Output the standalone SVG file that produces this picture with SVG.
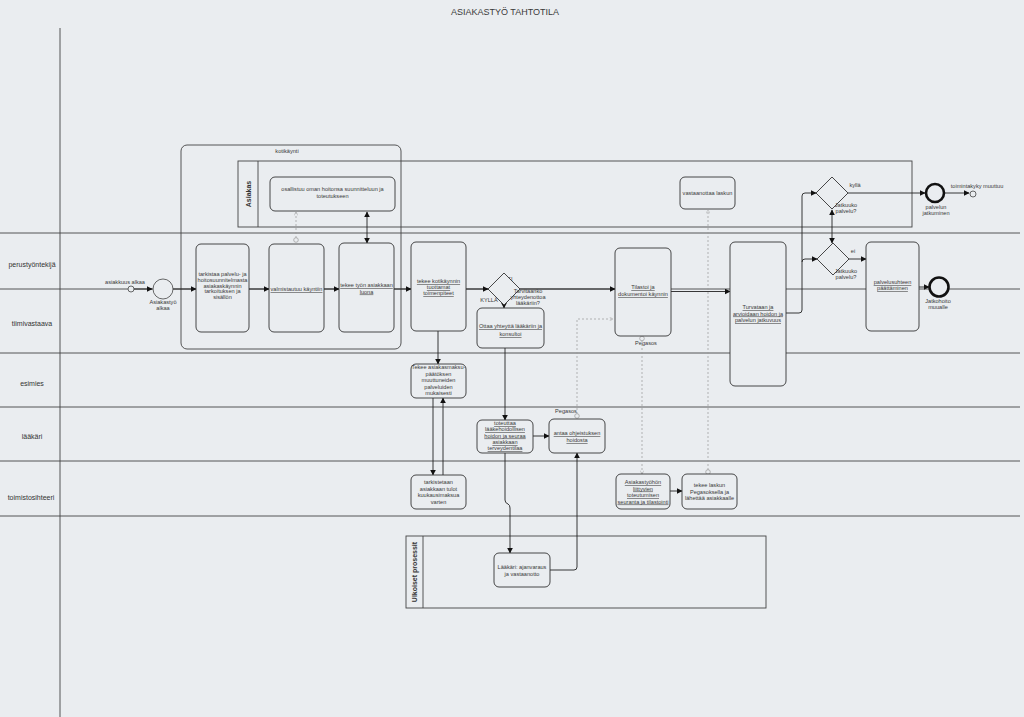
<svg xmlns="http://www.w3.org/2000/svg" width="1024" height="717" viewBox="0 0 1024 717">
<style>
  text { font-family: "Liberation Sans", Arial, sans-serif; fill: #3a3a3a; }
  .t { font-size: 5.6px; text-anchor: middle; }
  .u { text-decoration: underline; }
  .lane { font-size: 7px; text-anchor: middle; fill: #333; }
  .task { fill: #eaedf0; stroke: #333; stroke-width: 0.9; }
  .line { stroke: #444; stroke-width: 0.9; fill: none; }
  .flow { stroke: #222; stroke-width: 0.9; fill: none; marker-end: url(#arr); }
  .both { stroke: #222; stroke-width: 0.9; fill: none; marker-end: url(#arr); marker-start: url(#arr); }
  .msg { stroke: #9a9a9a; stroke-width: 0.7; stroke-dasharray: 2 2; fill: none; }
  .msgc { fill: #eaedf0; stroke: #9a9a9a; stroke-width: 0.7; }
  .pool { fill: none; stroke: #444; stroke-width: 0.9; }
  .plabel { font-size: 7px; font-weight: bold; text-anchor: middle; fill: #333; }
  .gw { fill: #eaedf0; stroke: #333; stroke-width: 0.9; }
</style>
<defs>
  <marker id="arr" viewBox="0 0 10 10" refX="9" refY="5" markerWidth="6" markerHeight="6" orient="auto-start-reverse" markerUnits="userSpaceOnUse">
    <path d="M0,0 L10,5 L0,10 z" fill="#111"/>
  </marker>
  <marker id="arrs" viewBox="0 0 10 10" refX="9" refY="5" markerWidth="4" markerHeight="4" orient="auto" markerUnits="userSpaceOnUse">
    <path d="M0,0 L10,5 L0,10" fill="none" stroke="#9a9a9a"/>
  </marker>
</defs>
<rect x="0" y="0" width="1024" height="717" fill="#eaedf0"/>
<text x="505" y="15" font-size="9" text-anchor="middle" fill="#555">ASIAKASTYÖ TAHTOTILA</text>

<g id="lanes">
  <line class="line" x1="60" y1="28" x2="60" y2="717"/>
  <line class="line" x1="0" y1="233" x2="1020" y2="233"/>
  <line class="line" x1="0" y1="289" x2="1020" y2="289"/>
  <line class="line" x1="0" y1="353" x2="1020" y2="353"/>
  <line class="line" x1="0" y1="407" x2="1020" y2="407"/>
  <line class="line" x1="0" y1="461" x2="1020" y2="461"/>
  <line class="line" x1="0" y1="516" x2="1020" y2="516"/>
  <text class="lane" x="32" y="267">perustyöntekijä</text>
  <text class="lane" x="32" y="326">tiimivastaava</text>
  <text class="lane" x="32" y="386">esimies</text>
  <text class="lane" x="32" y="439">lääkäri</text>
  <text class="lane" x="31" y="500">toimistosihteeri</text>
</g>

<g id="pool-asiakas">
  <rect class="pool" x="238" y="161" width="674" height="66"/>
  <line class="line" x1="258" y1="161" x2="258" y2="227"/>
  <text class="plabel" transform="translate(250.5,194) rotate(-90)">Asiakas</text>
</g>

<g id="kotikaynti">
  <rect x="181" y="145" width="220" height="204" rx="6" fill="none" stroke="#444" stroke-width="0.9"/>
  <text class="t" x="287" y="153">kotikäynti</text>
</g>

<g id="pool-ulkoiset">
  <rect class="pool" x="406" y="536" width="360" height="72"/>
  <line class="line" x1="423" y1="536" x2="423" y2="608"/>
  <text class="plabel" transform="translate(417,572) rotate(-90)">Ulkoiset prosessit</text>
</g>

<g id="connectors">
  <path class="flow" d="M134,289 H152"/>
  <path class="flow" d="M173,289 H196"/>
  <path class="flow" d="M249,289 H269"/>
  <path class="flow" d="M324,289 H339"/>
  <path class="flow" d="M394,289 H411"/>
  <path class="both" d="M367,212 V243"/>
  <path class="flow" d="M466,289 H488"/>
  <path class="flow" d="M520,289 H615"/>
  <path class="flow" d="M504,304 V308"/>
  <path class="flow" d="M438,331 V364"/>
  <path class="flow" d="M433,398 V475"/>
  <path class="flow" d="M443,475 V398"/>
  <path class="flow" d="M505,348 V420"/>
  <path class="flow" d="M533,436 H549"/>
  <path class="flow" d="M505,453 V500 Q505,503 508,504 Q510,505 510,508 V553"/>
  <path class="flow" d="M550,570 H574 Q577,570 577,567 V453"/>
  <path class="flow" d="M671,291.5 H730"/>
  <path class="flow" d="M670,491 H682"/>
  <path class="flow" d="M786,313 H799 Q802,313 802,310 V196 Q802,193 805,193 H816"/>
  <path class="flow" d="M802,262 Q802,259 805,259 H817"/>
  <path class="both" d="M832,210 V243"/>
  <path class="flow" d="M848,193 H925"/>
  <path class="flow" d="M945,193 H969"/>
  <path class="flow" d="M849,259 H866"/>
  <path class="flow" d="M919,287 H929"/>
  <path class="msg" d="M296,238 V212" marker-end="url(#arrs)"/>
  <circle class="msgc" cx="296" cy="240" r="2.3"/>
  <path class="msg" d="M577,414 V319 H613" marker-end="url(#arrs)"/>
  <circle class="msgc" cx="577" cy="416" r="2.3"/>
  <path class="msg" d="M642,340 V474" marker-end="url(#arrs)"/>
  <circle class="msgc" cx="642" cy="338.5" r="2.3"/>
  <path class="msg" d="M708,470 V210" marker-end="url(#arrs)"/>
  <circle class="msgc" cx="708" cy="472" r="2.3"/>
  <text class="t" x="510" y="281" text-anchor="start">EI</text>
  <text class="t" x="489" y="302">KYLLÄ</text>
  <text class="t" x="855" y="187">kyllä</text>
  <text class="t" x="853" y="253">ei</text>
  <text class="t" x="566" y="413" text-anchor="start">Pegasos</text>
  <text class="t" x="646" y="345" text-anchor="start">Pegasos</text>
</g>

<g id="start-asiakkuus">
  <circle cx="131" cy="289" r="3" fill="#eaedf0" stroke="#444" stroke-width="0.8"/>
  <text class="t" x="125" y="284">asiakkuus alkaa</text>
</g>
<g id="start-asiakastyo">
  <circle cx="163" cy="289" r="10" fill="#eaedf0" stroke="#444" stroke-width="0.8"/>
  <text class="t" x="163" y="304">Asiakastyö</text>
  <text class="t" x="163" y="310">alkaa</text>
</g>

<g id="task-tarkistaa">
  <rect class="task" x="196" y="244" width="53" height="88" rx="5"/>
  <text class="t" x="222.5" y="276">tarkistaa palvelu- ja</text>
  <text class="t" x="222.5" y="282">hoitosuunnitelmasta</text>
  <text class="t" x="222.5" y="287.5">asiakaskäynnin</text>
  <text class="t" x="222.5" y="293">tarkoituksen ja</text>
  <text class="t" x="222.5" y="298.5">sisällön</text>
</g>
<g id="task-valmistautuu">
  <rect class="task" x="269" y="244" width="55" height="88" rx="5"/>
  <text class="t u" x="296.5" y="291">valmistautuu käyntiin</text>
</g>
<g id="task-tekee-tyon">
  <rect class="task" x="339" y="243" width="55" height="89" rx="5"/>
  <text class="t u" x="366.5" y="287">tekee työn asiakkaan</text>
  <text class="t u" x="366.5" y="293.5">luona</text>
</g>
<g id="task-osallistuu">
  <rect class="task" x="270" y="177" width="125" height="34" rx="5"/>
  <text class="t" x="332.5" y="191">osallistuu oman hoitonsa suunnitteluun ja</text>
  <text class="t" x="332.5" y="198">toteutukseen</text>
</g>
<g id="task-kotikaynnin">
  <rect class="task" x="411" y="242" width="55" height="89" rx="5"/>
  <text class="t u" x="438.5" y="283">tekee kotikäynnin</text>
  <text class="t u" x="438.5" y="289">tuottamat</text>
  <text class="t u" x="438.5" y="295">toimenpiteet</text>
</g>
<g id="gw-tarvitaanko">
  <polygon class="gw" points="504,273 520,289 504,305 488,289"/>
  <text class="t" x="528" y="293">Tarvitaanko</text>
  <text class="t" x="528" y="299">yhteydenottoa</text>
  <text class="t" x="528" y="305">lääkäriin?</text>
</g>
<g id="task-ottaa">
  <rect class="task" x="477" y="308" width="67" height="40" rx="5"/>
  <text class="t u" x="510.5" y="328">Ottaa yhteyttä lääkäriin ja</text>
  <text class="t u" x="510.5" y="336">konsultoi</text>
</g>
<g id="task-asiakasmaksu">
  <rect class="task" x="411" y="364" width="55" height="34" rx="5"/>
  <text class="t" x="438.5" y="369">Tekee asiakasmaksu-</text>
  <text class="t" x="438.5" y="375.5">päätöksen</text>
  <text class="t" x="438.5" y="382">muuttuneiden</text>
  <text class="t" x="438.5" y="388.5">palveluiden</text>
  <text class="t" x="438.5" y="395">mukaisesti</text>
</g>
<g id="task-tarkistetaan">
  <rect class="task" x="411" y="475" width="55" height="34" rx="5"/>
  <text class="t" x="438.5" y="484">tarkistetaan</text>
  <text class="t" x="438.5" y="490.5">asiakkaan tulot</text>
  <text class="t" x="438.5" y="497">kuukausimaksua</text>
  <text class="t" x="438.5" y="503.5">varten</text>
</g>
<g id="task-toteuttaa">
  <rect class="task" x="477" y="420" width="56" height="33" rx="5"/>
  <text class="t u" x="505" y="425">toteuttaa</text>
  <text class="t u" x="505" y="431">lääkehoidollisen</text>
  <text class="t u" x="505" y="437.5">hoidon ja seuraa</text>
  <text class="t u" x="505" y="444">asiakkaan</text>
  <text class="t u" x="505" y="450">terveydentilaa</text>
</g>
<g id="task-antaa">
  <rect class="task" x="549" y="419" width="56" height="34" rx="5"/>
  <text class="t u" x="577" y="435">antaa ohjeistuksen</text>
  <text class="t u" x="577" y="442">hoidosta</text>
</g>
<g id="task-laakari">
  <rect class="task" x="494" y="553" width="56" height="34" rx="5"/>
  <text class="t" x="522" y="569">Lääkäri: ajanvaraus</text>
  <text class="t" x="522" y="576">ja vastaanotto</text>
</g>
<g id="task-tilastoi">
  <rect class="task" x="615" y="248" width="56" height="88" rx="5"/>
  <text class="t u" x="643" y="289">Tilastoi ja</text>
  <text class="t u" x="643" y="296">dokumentoi käynnin</text>
</g>
<g id="task-vastaanottaa">
  <rect class="task" x="680" y="177" width="55" height="32" rx="5"/>
  <text class="t" x="707.5" y="195">vastaanottaa laskun</text>
</g>
<g id="task-seuranta">
  <rect class="task" x="616" y="474" width="54" height="35" rx="5"/>
  <text class="t u" x="643" y="484">Asiakastyöhön</text>
  <text class="t u" x="643" y="490.5">liittyvien</text>
  <text class="t u" x="643" y="497">toteutumisen</text>
  <text class="t u" x="643" y="503.5">seuranta ja tilastointi</text>
</g>
<g id="task-laskun">
  <rect class="task" x="682" y="474" width="55" height="35" rx="5"/>
  <text class="t" x="709.5" y="487">tekee laskun</text>
  <text class="t" x="709.5" y="493.5">Pegasoksella ja</text>
  <text class="t" x="709.5" y="500">lähettää asiakkaalle</text>
</g>
<g id="task-turvataan">
  <rect class="task" x="730" y="242" width="56" height="144" rx="5"/>
  <text class="t u" x="758" y="309">Turvataan ja</text>
  <text class="t u" x="758" y="315.5">arvioidaan hoidon ja</text>
  <text class="t u" x="758" y="322">palvelun jatkuvuus</text>
</g>
<g id="gw-jatkuuko-1">
  <polygon class="gw" points="832,177 848,193 832,209 816,193"/>
  <text class="t" x="846" y="207">Jatkuuko</text>
  <text class="t" x="846" y="213">palvelu?</text>
</g>
<g id="gw-jatkuuko-2">
  <polygon class="gw" points="833,243 849,259 833,275 817,259"/>
  <text class="t" x="846" y="273">Jatkuuko</text>
  <text class="t" x="846" y="279">palvelu?</text>
</g>
<g id="task-paattaminen">
  <rect class="task" x="866" y="242" width="53" height="89" rx="5"/>
  <text class="t u" x="892.5" y="284">palvelusuhteen</text>
  <text class="t u" x="892.5" y="290">päättäminen</text>
</g>
<g id="end-jatkuminen">
  <circle cx="935" cy="193" r="9" fill="#eaedf0" stroke="#111" stroke-width="2.6"/>
  <text class="t" x="936" y="209">palvelun</text>
  <text class="t" x="936" y="215">jatkuminen</text>
</g>
<g id="event-toimintakyky">
  <circle cx="973" cy="194" r="3" fill="#eaedf0" stroke="#444" stroke-width="0.8"/>
  <text class="t" x="977" y="188">toimintakyky muuttuu</text>
</g>
<g id="end-jatkohoito">
  <circle cx="939" cy="287" r="9.5" fill="#eaedf0" stroke="#111" stroke-width="2.6"/>
  <text class="t" x="938" y="303">Jatkohoito</text>
  <text class="t" x="938" y="309">muualle</text>
</g>
</svg>
